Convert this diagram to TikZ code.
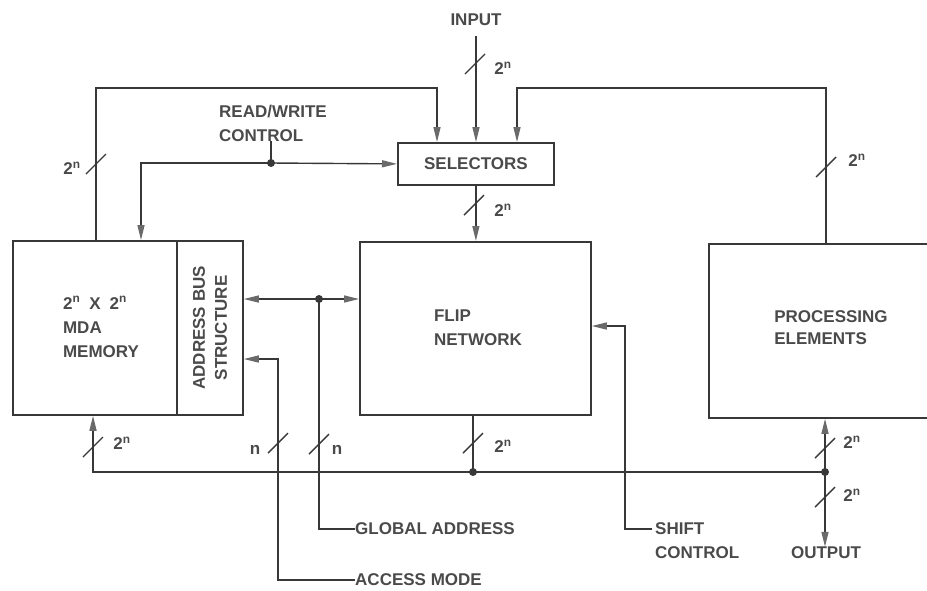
\documentclass[tikz,border=0pt]{standalone}
\usepackage{fontspec}
\setmainfont{Liberation Sans}
\usetikzlibrary{arrows.meta}
\definecolor{ink}{HTML}{383838}
\definecolor{txt}{HTML}{4A4A4A}
\definecolor{tip}{HTML}{6A6A6A}
\newcommand{\tpn}{2\textsuperscript{n}}
\begin{document}
\begin{tikzpicture}[x=1pt,y=-1pt,
  font=\fontsize{17}{24}\selectfont\bfseries, text=txt,
  box/.style={draw=ink, line width=1.8pt, inner sep=0pt, anchor=north west},
  wire/.style={draw=ink, line width=1.4pt},
  arr/.style={wire, -{Triangle[length=15pt,width=7pt,color=tip]}},
  dot/.style={circle, fill=ink, inner sep=0pt, minimum size=8pt},
  lab/.style={inner sep=0pt},
  busmark/.pic={\draw[ink, line width=1.4pt] (-10,10) -- (10,-10);}]
\useasboundingbox (0,0) rectangle (927,590);

% blocks
\node[box, minimum width=164pt, minimum height=174pt] (mem) at (12,240) {};
\node[box, minimum width=66pt, minimum height=174pt] (abus) at (176,240) {};
\node[box, minimum width=231pt, minimum height=173pt] (flip) at (359,241) {};
\node[box, minimum width=240pt, minimum height=174pt] (pe) at (708,243) {};
\node[box, minimum width=156pt, minimum height=42pt] (sel) at (397,142) {SELECTORS};

% block texts
\node[lab, align=left] (memtxt) at (101,327) {\tpn\hspace{9pt}X\hspace{9pt}\tpn\\MDA\\MEMORY};
\node[lab, align=center, rotate=90, font=\fontsize{17}{22}\selectfont\bfseries] (abustxt) at (abus.center) {ADDRESS BUS\\STRUCTURE};
\node[lab, align=left] (fliptxt) at (478,328) {FLIP\\NETWORK};
\node[lab, align=left, font=\fontsize{17}{22}\selectfont\bfseries] (petxt) at (831,328) {PROCESSING\\ELEMENTS};

% signal labels
\node[lab] (inlab) at (476,20) {INPUT};
\node[lab, align=left] (rwlab) at (273,123) {READ/WRITE\\CONTROL};
\node[lab, anchor=west] (glab) at (355,529) {GLOBAL ADDRESS};
\node[lab, anchor=west] (amlab) at (355,580) {ACCESS MODE};
\node[lab, align=left, anchor=west] (shlab) at (655,541) {SHIFT\\CONTROL};
\node[lab] (outlab) at (826,553) {OUTPUT};

% bend points
\coordinate (tl) at (96,88);
\coordinate (tr) at (826,88);
\coordinate (sa) at (437,88);
\coordinate (sb) at (517,88);
\coordinate (rwm) at (141,163);
\coordinate (ga) at (319,299);
\coordinate (am) at (278,359);
\coordinate (sc) at (625,326);
\coordinate (shin) at (652,529);
\coordinate (mb) at (93,472);
\coordinate (fb) at (473,472);
\coordinate (pb) at (825,472);

% input and feedback paths into the selectors
\draw[arr] (inlab.south) ++(0,10) -- (sel.north -| inlab.south);
\draw[arr] (mem.north -| tl) -- (tl) -- (sa) -- (sel.north -| sa);
\draw[arr] (pe.north -| tr) -- (tr) -- (sb) -- (sel.north -| sb);
\draw[arr] (sel.south) -- (flip.north -| sel.south);

% read/write control
\node[dot] (rw) at (271,163) {};
\draw[wire] (rw.center) -- (rw |- rwlab.south);
\draw[arr] (rw.center) -- (sel.west);
\draw[arr] (rw.center) -- (rwm) -- (mem.north -| rwm);

% address bus links
\node[dot] (gad) at (ga) {};
\draw[arr] (gad.center) -- (abus.east |- ga);
\draw[arr] (gad.center) -- (flip.west |- ga);
\draw[wire] (gad.center) |- (glab.west);
\draw[arr] (amlab.west) -| (am) -- (abus.east |- am);
\draw[arr] (shin) -| (sc) -- (flip.east |- sc);

% bottom data bus
\node[dot] (fbd) at (fb) {};
\node[dot] (pbd) at (pb) {};
\draw[arr] (pbd.center) -- (mb) -- (mem.south -| mb);
\draw[wire] (flip.south -| fb) -- (fbd.center);
\draw[arr] (pbd.center) -- (pe.south -| pb);
\draw[arr] (pbd.center) -- (outlab.north -| pb);

% bus width marks
\pic at (475,64) {busmark};
\node[lab] (n1) at (503,68) {\tpn};
\pic at (96,164) {busmark};
\node[lab] (n2) at (72,168) {\tpn};
\pic at (826,167) {busmark};
\node[lab] (n3) at (857,160) {\tpn};
\pic at (474,205) {busmark};
\node[lab] (n4) at (503,210) {\tpn};
\pic at (93,447) {busmark};
\node[lab] (n5) at (122,443) {\tpn};
\pic at (278,443) {busmark};
\node[lab] (n6) at (255,450) {n};
\pic at (319,444) {busmark};
\node[lab] (n7) at (337,450) {n};
\pic at (473,443) {busmark};
\node[lab] (n8) at (503,446) {\tpn};
\pic at (825,448) {busmark};
\node[lab] (n9) at (852,442) {\tpn};
\pic at (825,497) {busmark};
\node[lab] (n10) at (852,495) {\tpn};
\end{tikzpicture}
\end{document}
